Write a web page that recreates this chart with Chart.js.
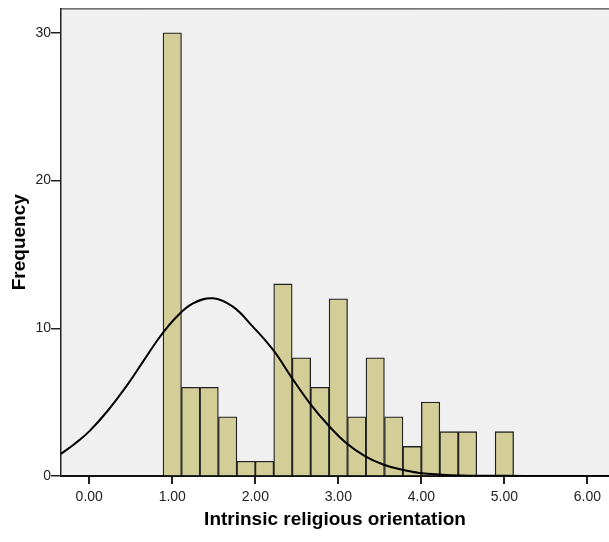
<!DOCTYPE html>
<html>
<head>
<meta charset="utf-8">
<script src="https://cdn.jsdelivr.net/npm/chart.js@4"></script>
<style>
html,body{margin:0;padding:0;background:#fff;}
canvas{display:block;}
</style>
</head>
<body>
<canvas id="c" width="609" height="542"></canvas>
<script>
// Histogram bins (bin centers, bin width ≈ 0.222)
const binCenters = [1.000, 1.222, 1.444, 1.667, 1.889, 2.111, 2.333, 2.556, 2.778, 3.000, 3.222, 3.444, 3.667, 3.889, 4.111, 4.333, 4.556, 4.778, 5.000];
const counts     = [30, 6, 6, 4, 1, 1, 13, 8, 6, 12, 4, 8, 4, 2, 5, 3, 3, 0, 3];

// Normal curve, points
const curveX = [-0.34, -0.17, 0.00, 0.22, 0.45, 0.65, 0.85, 1.05, 1.25, 1.49, 1.73, 1.97, 2.215, 2.436, 2.657, 2.877, 3.099, 3.32, 3.54, 3.74, 3.98, 4.25, 4.49, 4.75, 5.00, 5.50, 6.26];
const curveY = [1.50, 2.20, 3.02, 4.40, 6.10, 7.76, 9.41, 10.76, 11.68, 12.03, 11.46, 10.11, 8.53, 6.68, 4.92, 3.45, 2.21, 1.35, 0.78, 0.46, 0.20, 0.09, 0.04, 0.02, 0.01, 0.00, 0.00];

const xTicks = [0, 1, 2, 3, 4, 5, 6];
const yTicks = [0, 10, 20, 30];
const xTitle = 'Intrinsic religious orientation';
const yTitle = 'Frequency';

const framePlugin = {
  id: 'frame',
  beforeDraw(chart) {
    const {ctx, chartArea: a} = chart;
    ctx.save();
    ctx.fillStyle = '#f0f0f0';
    ctx.fillRect(a.left, a.top, a.right - a.left, a.bottom - a.top);
    ctx.strokeStyle = '#222';
    ctx.lineWidth = 1;
    ctx.beginPath();
    ctx.moveTo(a.left, a.top + 0.5);
    ctx.lineTo(a.right, a.top + 0.5);
    ctx.stroke();
    ctx.restore();
  }
};

new Chart(document.getElementById('c'), {
  type: 'bar',
  data: {
    datasets: [
      {
        type: 'line',
        data: curveX.map((x, i) => ({x: x, y: curveY[i]})),
        borderColor: '#000',
        borderWidth: 2,
        pointRadius: 0,
        fill: false,
        tension: 0.4,
        order: 0
      },
      {
        type: 'bar',
        data: binCenters.map((x, i) => ({x: x, y: counts[i]})),
        backgroundColor: '#d3ce98',
        borderColor: '#222',
        borderWidth: 1.3,
        barPercentage: 1,
        categoryPercentage: 1,
        order: 1
      }
    ]
  },
  options: {
    responsive: false,
    animation: false,
    layout: {padding: {top: 8, right: 0, left: 0, bottom: 0}},
    plugins: {legend: {display: false}, tooltip: {enabled: false}},
    scales: {
      x: {
        type: 'linear',
        offset: false,
        min: -0.34,
        max: 6.26,
        afterBuildTicks: s => { s.ticks = xTicks.map(v => ({value: v})); },
        afterFit: s => { s.height = 66; },
        grid: {offset: false, drawOnChartArea: false, drawTicks: true, tickLength: 8, color: '#222', lineWidth: 2},
        border: {display: true, color: '#111', width: 2},
        ticks: {
          color: '#222',
          padding: 5,
          maxRotation: 0,
          font: {family: 'Liberation Sans, Arial, sans-serif', size: 14},
          callback: v => Number(v).toFixed(2)
        },
        title: {
          display: true,
          text: xTitle,
          color: '#000',
          font: {family: 'Liberation Sans, Arial, sans-serif', size: 19, weight: 'bold'},
          padding: {top: 0, bottom: 11}
        }
      },
      y: {
        min: 0,
        max: 31.65,
        afterBuildTicks: s => { s.ticks = yTicks.map(v => ({value: v})); },
        afterFit: s => { s.width = 61; },
        grid: {drawOnChartArea: false, drawTicks: true, tickLength: 10, color: '#222', lineWidth: 1.5},
        border: {display: true, color: '#222', width: 1.5},
        ticks: {
          color: '#222',
          padding: 0,
          font: {family: 'Liberation Sans, Arial, sans-serif', size: 14}
        },
        title: {
          display: true,
          text: yTitle,
          color: '#000',
          font: {family: 'Liberation Sans, Arial, sans-serif', size: 19, weight: 'bold'},
          padding: {top: 8, bottom: 0}
        }
      }
    }
  },
  plugins: [framePlugin]
});
</script>
</body>
</html>
